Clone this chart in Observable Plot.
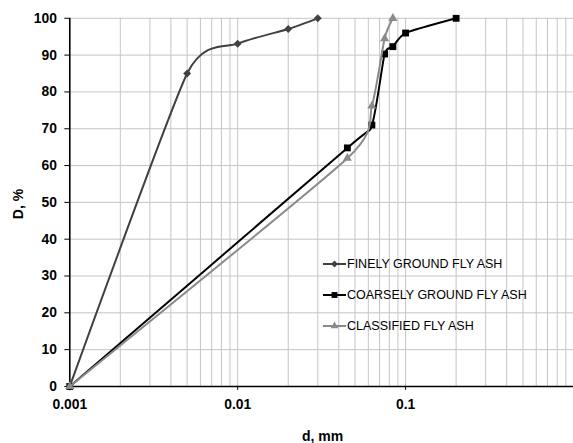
<!DOCTYPE html>
<html><head><meta charset="utf-8">
<script src="https://cdn.jsdelivr.net/npm/d3@7"></script>
<script src="https://cdn.jsdelivr.net/npm/@observablehq/plot@0.6"></script>
<style>
html,body{margin:0;padding:0;background:#fff;overflow:hidden;}
#wrap{position:relative;width:573px;height:443px;overflow:hidden;font-family:"Liberation Sans",Arial,sans-serif;background:#fff;}
#wrap svg.plot{position:absolute;left:0;top:0;}
.ttl{position:absolute;font-weight:bold;font-size:14px;color:#000;white-space:nowrap;line-height:16px;}
.leg{position:absolute;left:323px;height:14px;white-space:nowrap;}
.leg svg{position:absolute;left:0;top:2px;}
.leg span{position:absolute;left:24px;top:0;font-size:12.5px;line-height:14px;color:#000;}
</style></head><body><div id="wrap"></div>
<script>
// ---- data ----
const seriesNames = ["FINELY GROUND FLY ASH", "COARSELY GROUND FLY ASH", "CLASSIFIED FLY ASH"];
const seriesColors = ["#404040", "#000000", "#8a8a8a"];
const seriesSymbols = ["diamond2", "square", "triangle"];
const fineD = [0.001, 0.005, 0.01, 0.02, 0.03];
const fineP = [0, 85, 93.1, 97.1, 100];
const coarseD = [0.001, 0.045, 0.063, 0.075, 0.084, 0.1, 0.2];
const coarseP = [0, 64.8, 71, 90.3, 92.3, 96, 100];
const classD = [0.001, 0.045, 0.063, 0.075, 0.084];
const classP = [0, 62, 76.2, 94.5, 100];
const yTicks = [0, 10, 20, 30, 40, 50, 60, 70, 80, 90, 100];
const xTicks = [0.001, 0.01, 0.1];
const xLabel = "d, mm";
const yLabel = "D, %";

const toRows = (ds, ps) => ds.map((d, i) => ({d, p: ps[i]}));
const series = [toRows(fineD, fineP), toRows(coarseD, coarseP), toRows(classD, classP)];
const gridX = d3.scaleLog().domain([0.001, 1]).ticks();

const marks = [
  Plot.ruleX(gridX, {stroke: "#c4c4c4", strokeWidth: 1}),
  Plot.ruleY(yTicks.slice(1), {stroke: "#c4c4c4", strokeWidth: 1}),
  Plot.axisY({ticks: yTicks, tickSize: 5, tickPadding: 8, label: null}),
  Plot.axisX({ticks: xTicks, tickSize: 4, tickPadding: 9, tickFormat: d => String(d), label: null}),
  Plot.ruleX([0.001], {stroke: "#000", strokeWidth: 1.6}),
  Plot.ruleY([0], {stroke: "#000", strokeWidth: 1.6})
];
const rs = [3.6, 3.9, 3.4];
[0, 1, 2].forEach(i => {
  marks.push(Plot.line(series[i], {x: "d", y: "p", stroke: seriesColors[i], strokeWidth: 2, curve: "cardinal", tension: 0.4}));
  marks.push(Plot.dot(series[i], {x: "d", y: "p", symbol: seriesSymbols[i], r: rs[i], fill: seriesColors[i], stroke: "none"}));
});

const chart = Plot.plot({
  width: 579, height: 443,
  marginLeft: 70, marginRight: 0, marginTop: 18, marginBottom: 53,
  style: {fontFamily: "'Liberation Sans', Arial, sans-serif", fontSize: "14px", fontWeight: "bold", color: "#000", background: "transparent", overflow: "visible"},
  x: {type: "log", domain: [0.001, 1]},
  y: {domain: [0, 100]},
  marks
});
const wrap = document.getElementById("wrap");
wrap.appendChild(chart);

// axis titles
const xt = document.createElement("div");
xt.className = "ttl"; xt.textContent = xLabel;
xt.style.left = "302px"; xt.style.top = "428px";
wrap.appendChild(xt);
const yt = document.createElement("div");
yt.className = "ttl"; yt.textContent = yLabel;
yt.style.left = "18px"; yt.style.top = "204px";
yt.style.transform = "translate(-50%,-50%) rotate(-90deg)";
wrap.appendChild(yt);

// legend
const legY = [257, 288, 319];
const symPath = (name, r) => {
  const map = {diamond2: d3.symbolDiamond2, square: d3.symbolSquare, triangle: d3.symbolTriangle};
  return d3.symbol(map[name], Math.PI * r * r)();
};
seriesNames.forEach((name, i) => {
  const row = document.createElement("div");
  row.className = "leg";
  row.style.top = legY[i] + "px";
  row.innerHTML = `<svg width="23" height="10"><line x1="0" x2="23" y1="5" y2="5" stroke="${seriesColors[i]}" stroke-width="2"/><path transform="translate(11.5,5)" d="${symPath(seriesSymbols[i], rs[i] * 0.85)}" fill="${seriesColors[i]}"/></svg><span>${name}</span>`;
  wrap.appendChild(row);
});
</script>
</body></html>
